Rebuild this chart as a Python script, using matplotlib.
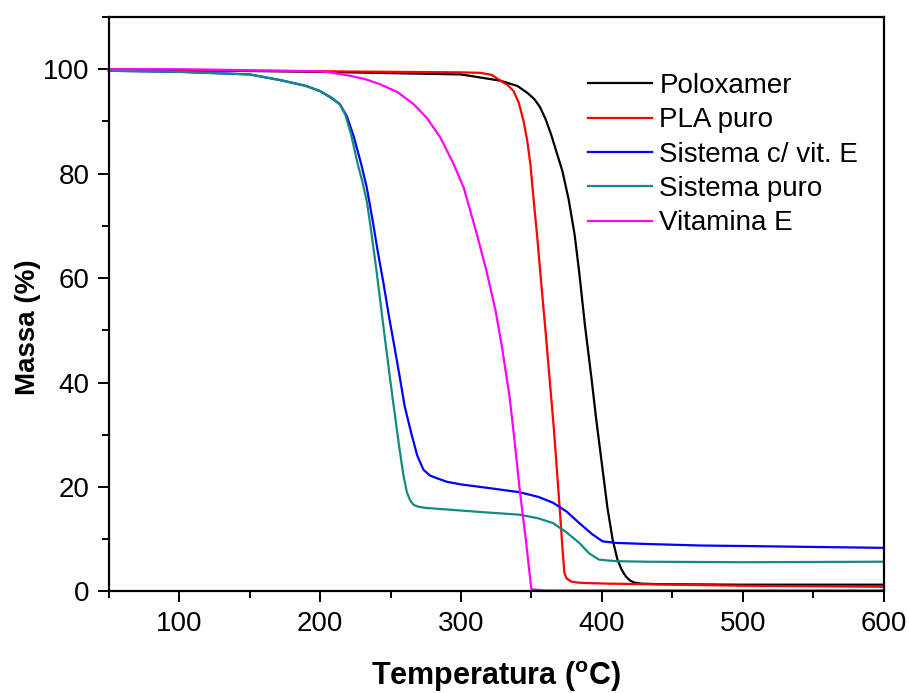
import matplotlib.pyplot as plt
from matplotlib.ticker import MultipleLocator

plt.rcParams['font.family'] = ['Liberation Sans', 'DejaVu Sans']
plt.rcParams['mathtext.fontset'] = 'custom'
plt.rcParams['mathtext.bf'] = 'Liberation Sans:bold'
plt.rcParams['mathtext.rm'] = 'Liberation Sans'

# ---- data ----
labels = ["Poloxamer", "PLA puro", "Sistema c/ vit. E", "Sistema puro", "Vitamina E"]
colors = ["#000000", "#ff0000", "#0000ff", "#138a82", "#ff00ff"]

polox_T = [50, 100, 200, 300, 328, 340, 347, 352, 356, 360, 364, 368, 372, 376.5, 380.7, 384,
           388, 392.8, 396, 400, 404, 407.7, 411, 414, 417, 420, 423, 428, 440, 500, 600]
polox_m = [100, 99.8, 99.5, 99.0, 97.8, 96.8, 95.5, 94.3, 92.8, 90.5, 87.5, 84, 80.5, 75, 68.3,
           61, 51, 40.5, 33, 24.5, 16, 9.9, 6.2, 4.2, 2.9, 2.1, 1.7, 1.5, 1.4, 1.3, 1.3]

pla_T = [50, 100, 200, 300, 314, 322, 328, 333, 337.4, 341, 344.5, 347, 349.3, 351.6, 354,
         357, 360, 363, 366, 370, 372, 373.4, 375, 378.2, 383, 390, 405, 500, 600]
pla_m = [100, 99.8, 99.6, 99.4, 99.3, 98.9, 97.8, 97, 95.8, 93.6, 90, 86.4, 81.8, 75, 68.3,
         59, 50, 40.5, 31, 16.3, 8.5, 3.6, 2.5, 1.9, 1.7, 1.6, 1.5, 1.1, 0.9]

blue_T = [50, 100, 150, 172, 190, 200, 208, 214, 219, 224, 229, 233, 237, 241, 245, 249, 253,
          256.9, 260, 265, 269, 273.4, 278, 282.8, 290, 300, 320, 341.7, 355, 365.3, 375, 384,
          393, 400.5, 410, 431, 470, 502, 600]
blue_m = [99.7, 99.5, 99, 97.9, 96.8, 95.8, 94.5, 93.3, 91, 87, 82, 77.5, 71.5, 65, 59, 52.5,
          46.5, 40.5, 35.5, 30, 26, 23.3, 22.2, 21.7, 21, 20.5, 19.8, 19, 18.1, 17, 15.3, 13.1,
          11, 9.6, 9.3, 9.1, 8.8, 8.7, 8.35]

teal_T = [50, 100, 150, 172, 190, 200, 208, 214, 218, 222, 227, 230, 233.3, 236, 240, 243, 246,
          249.8, 252, 256, 259, 261.6, 264, 266.3, 270, 275, 289.8, 320, 341.7, 355, 365.3,
          375, 384, 391, 398, 410, 431, 502, 600]
teal_m = [99.7, 99.5, 99, 97.9, 96.8, 95.8, 94.6, 93.3, 91.2, 87.5, 81.5, 78.5, 74.5, 69.5, 61.5,
          55, 48.5, 40.5, 36, 28, 22.5, 19, 17.4, 16.6, 16.2, 16.0, 15.7, 15.1, 14.7, 14.0,
          13.1, 11.3, 9.3, 7.3, 6.1, 5.8, 5.7, 5.6, 5.7]

vit_T = [50, 100, 200, 207, 220, 232, 242.7, 255, 266.4, 276, 285.4, 294, 302, 311.4, 318,
         324.4, 329, 334.4, 338, 341.7, 346, 350, 360, 600]
vit_m = [100, 100, 99.6, 99.4, 98.8, 98.1, 97.1, 95.6, 93.3, 90.6, 86.9, 82.3, 77.3, 68.3,
         61.5, 54, 47, 37.5, 29, 19.5, 10, 0.4, 0.2, 0.2]

series_T = [polox_T, pla_T, blue_T, teal_T, vit_T]
series_m = [polox_m, pla_m, blue_m, teal_m, vit_m]

# ---- plot ----
fig = plt.figure(figsize=(9.09, 6.93), dpi=100)
ax = fig.add_axes([0.1197, 0.1465, 0.8523, 0.829])

for T, m, c, lab in zip(series_T, series_m, colors, labels):
    ax.plot(T, m, color=c, lw=1.6, label=lab, clip_on=False)

ax.set_xlim(50, 600)
ax.set_ylim(0, 110)
ax.xaxis.set_major_locator(MultipleLocator(100))
ax.xaxis.set_minor_locator(MultipleLocator(50))
ax.yaxis.set_major_locator(MultipleLocator(20))
ax.yaxis.set_minor_locator(MultipleLocator(10))
ax.tick_params(which='both', direction='out', top=False, right=False, width=1.4,
               labelsize=20, pad=6)
ax.tick_params(which='major', length=8)
ax.tick_params(which='minor', length=5)
for s in ax.spines.values():
    s.set_linewidth(1.6)

ax.set_xlabel(r'Temperatura ($\mathbf{^{o}}$C)', fontsize=22, fontweight='bold', labelpad=16)
ax.set_ylabel('Massa (%)', fontsize=20, fontweight='bold')
ax.yaxis.set_label_coords(-0.088, 0.46)

ax.legend(loc='upper left', bbox_to_anchor=(0.619, 0.9025), frameon=False, fontsize=20,
          handlelength=2.3, handletextpad=0.26, labelspacing=0.3, borderpad=0,
          borderaxespad=0)

fig.savefig("out.png", dpi=100)
